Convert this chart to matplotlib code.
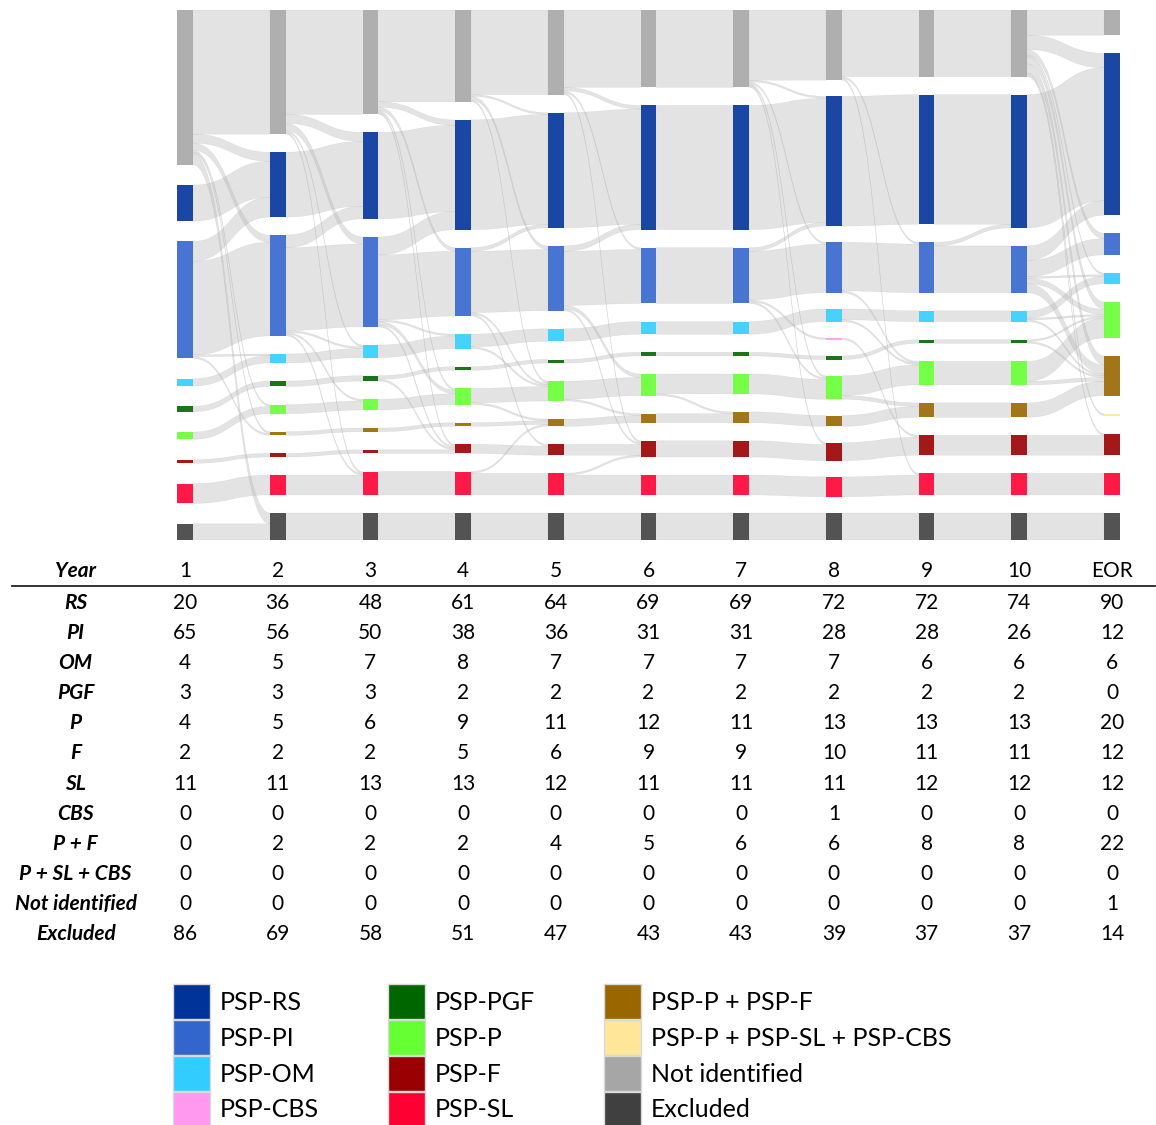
import matplotlib
matplotlib.use('Agg')
import matplotlib.pyplot as plt
from matplotlib.path import Path
from matplotlib.patches import PathPatch, Rectangle, Patch

plt.rcParams['font.family'] = ['Lato', 'DejaVu Sans']

# ---- data ----
years = ['1', '2', '3', '4', '5', '6', '7', '8', '9', '10', 'EOR']
rs  = [20, 36, 48, 61, 64, 69, 69, 72, 72, 74, 90]
pi  = [65, 56, 50, 38, 36, 31, 31, 28, 28, 26, 12]
om  = [4, 5, 7, 8, 7, 7, 7, 7, 6, 6, 6]
pgf = [3, 3, 3, 2, 2, 2, 2, 2, 2, 2, 0]
p   = [4, 5, 6, 9, 11, 12, 11, 13, 13, 13, 20]
f   = [2, 2, 2, 5, 6, 9, 9, 10, 11, 11, 12]
sl  = [11, 11, 13, 13, 12, 11, 11, 11, 12, 12, 12]
cbs = [0, 0, 0, 0, 0, 0, 0, 1, 0, 0, 0]
pf  = [0, 2, 2, 2, 4, 5, 6, 6, 8, 8, 22]
psc = [0, 0, 0, 0, 0, 0, 0, 0, 0, 0, 0]
not_identified = [0, 0, 0, 0, 0, 0, 0, 0, 0, 0, 1]
excluded = [86, 69, 58, 51, 47, 43, 43, 39, 37, 37, 14]
lost = [9, 15, 15, 15, 15, 15, 15, 15, 15, 15, 15]   # dark bar at the bottom

table_rows = ['RS', 'PI', 'OM', 'PGF', 'P', 'F', 'SL', 'CBS', 'P + F',
              'P + SL + CBS', 'Not identified', 'Excluded']
table_vals = [rs, pi, om, pgf, p, f, sl, cbs, pf, psc, not_identified, excluded]

# sankey nodes, top to bottom
node_keys = ['ex', 'rs', 'pi', 'om', 'cbs', 'pgf', 'p', 'pf', 'ni', 'f', 'sl', 'lost']
node_vals = dict(ex=excluded, rs=rs, pi=pi, om=om, cbs=cbs, pgf=pgf, p=p,
                 pf=pf, ni=not_identified, f=f, sl=sl, lost=lost)

# patients changing group between consecutive years (src, dst, n)
changes = [
    [('ex', 'lost', 6), ('ex', 'rs', 5), ('ex', 'pi', 4), ('ex', 'p', 1), ('ex', 'pf', 1),
     ('pi', 'rs', 11), ('pi', 'om', 1), ('pi', 'pf', 1)],
    [('ex', 'rs', 5), ('ex', 'pi', 4), ('ex', 'om', 1), ('ex', 'sl', 1),
     ('pi', 'rs', 7), ('pi', 'om', 1), ('pi', 'p', 1), ('pi', 'sl', 1)],
    [('ex', 'rs', 3), ('ex', 'pi', 2), ('ex', 'p', 1), ('ex', 'f', 1),
     ('pi', 'rs', 10), ('pi', 'om', 1), ('pi', 'p', 2), ('pi', 'f', 1), ('pgf', 'f', 1)],
    [('ex', 'rs', 1), ('ex', 'pi', 2), ('ex', 'p', 1), ('pi', 'rs', 2), ('pi', 'p', 1),
     ('pi', 'f', 1), ('om', 'p', 1), ('p', 'pf', 1), ('sl', 'pf', 1)],
    [('ex', 'rs', 2), ('ex', 'pi', 1), ('ex', 'f', 1), ('pi', 'rs', 3), ('pi', 'p', 2),
     ('pi', 'f', 1), ('sl', 'f', 1), ('p', 'pf', 1)],
    [('p', 'pf', 1)],
    [('ex', 'rs', 1), ('ex', 'pi', 1), ('ex', 'p', 1), ('ex', 'f', 1),
     ('pi', 'rs', 2), ('pi', 'p', 1), ('pi', 'cbs', 1)],
    [('ex', 'pi', 1), ('ex', 'sl', 1), ('pi', 'p', 1), ('om', 'p', 1), ('p', 'pf', 2),
     ('cbs', 'f', 1)],
    [('pi', 'rs', 2)],
    [('ex', 'rs', 8), ('ex', 'pi', 3), ('ex', 'om', 1), ('ex', 'p', 4), ('ex', 'pf', 5),
     ('ex', 'f', 1), ('ex', 'ni', 1), ('pi', 'rs', 8), ('pi', 'om', 1), ('pi', 'p', 3),
     ('pi', 'pf', 5), ('om', 'p', 1), ('om', 'pf', 1), ('pgf', 'p', 1), ('pgf', 'pf', 1),
     ('p', 'pf', 2)],
]

colors = dict(rs='#003399', pi='#3366cc', om='#33ccff', cbs='#ff99f0', pgf='#006600',
              p='#66ff33', f='#990000', sl='#ff0033', pf='#996600', ni='#ffe699',
              ex='#a6a6a6', lost='#404040')
legend_items = [('PSP-RS', 'rs'), ('PSP-PI', 'pi'), ('PSP-OM', 'om'), ('PSP-CBS', 'cbs'),
                ('PSP-PGF', 'pgf'), ('PSP-P', 'p'), ('PSP-F', 'f'), ('PSP-SL', 'sl'),
                ('PSP-P + PSP-F', 'pf'), ('PSP-P + PSP-SL + PSP-CBS', 'ni'),
                ('Not identified', 'ex'), ('Excluded', 'lost')]

# ---- layout ----
ncol = len(years)
node_w = 0.17
share = 0.6925          # part of the column height taken by the bars
total = sum(node_vals[k][0] for k in node_keys)
H = total / share

node_y = []             # per column: key -> (top, bottom)
for t in range(ncol):
    keys = [k for k in node_keys if node_vals[k][t] > 0]
    s = sum(node_vals[k][t] for k in keys)
    gap = (H - s) / (len(keys) - 1)
    y = 0.0
    pos = {}
    for k in keys:
        pos[k] = (y, y + node_vals[k][t])
        y += node_vals[k][t] + gap
    node_y.append(pos)

order = {k: i for i, k in enumerate(node_keys)}

fig = plt.figure(figsize=(11.56, 11.25), dpi=100)
x_lo, x_hi = -185 / 92.7, (1156 - 185) / 92.7

ax = fig.add_axes([0, 1 - 540 / 1125, 1, 530 / 1125])
ax.set_xlim(x_lo, x_hi)
ax.set_ylim(H, 0)
ax.axis('off')

for t, ch in enumerate(changes):
    links = {}
    for s_, d_, n in ch:
        links[(s_, d_)] = links.get((s_, d_), 0) + n
    for k in node_keys:
        out = sum(n for (s_, d_), n in links.items() if s_ == k and d_ != k)
        stay = node_vals[k][t] - out
        if stay > 0:
            links[(k, k)] = stay
    for k in node_keys:
        inflow = sum(n for (s_, d_), n in links.items() if d_ == k)
        assert inflow == node_vals[k][t + 1], (t, k)

    src_off = {k: node_y[t][k][0] for k in node_y[t]}
    dst_off = {k: node_y[t + 1][k][0] for k in node_y[t + 1]}
    y0s, y1s = {}, {}
    for key in sorted(links, key=lambda e: (order[e[0]], order[e[1]])):
        y0s[key] = src_off[key[0]]
        src_off[key[0]] += links[key]
    for key in sorted(links, key=lambda e: (order[e[1]], order[e[0]])):
        y1s[key] = dst_off[key[1]]
        dst_off[key[1]] += links[key]

    x0, x1 = t + node_w / 2, t + 1 - node_w / 2
    xm = (x0 + x1) / 2
    for key, n in links.items():
        a, b = y0s[key], y1s[key]
        verts = [(x0, a), (xm, a), (xm, b), (x1, b), (x1, b + n),
                 (xm, b + n), (xm, a + n), (x0, a + n), (x0, a)]
        codes = [Path.MOVETO, Path.CURVE4, Path.CURVE4, Path.CURVE4, Path.LINETO,
                 Path.CURVE4, Path.CURVE4, Path.CURVE4, Path.CLOSEPOLY]
        ax.add_patch(PathPatch(Path(verts, codes), facecolor='#b0b0b0',
                               edgecolor='#b0b0b0', lw=0.3, alpha=0.35, zorder=1))

for t in range(ncol):
    for k, (top, bot) in node_y[t].items():
        ax.add_patch(Rectangle((t - node_w / 2, top), node_w, bot - top,
                               facecolor=colors[k], alpha=0.9, lw=0, zorder=3))

# ---- table ----
tab = fig.add_axes([0, 1 - 950 / 1125, 1, 395 / 1125])
tab.set_xlim(x_lo, x_hi)
tab.set_ylim(12.53, -0.595)
tab.axis('off')
lab_x = -1.18
fs = 15
tab.text(lab_x, -0.05, 'Year', ha='center', va='center', fontsize=fs,
         fontweight='bold', style='italic')
for t, yr in enumerate(years):
    tab.text(t, -0.05, yr, ha='center', va='center', fontsize=fs)
tab.axhline(0.45, xmin=12 / 1156, xmax=1155 / 1156, color='#222222', lw=1.3)
for r, (name, vals) in enumerate(zip(table_rows, table_vals), start=1):
    tab.text(lab_x, r, name, ha='center', va='center', fontsize=fs,
             fontweight='bold', style='italic')
    for t, v in enumerate(vals):
        tab.text(t, r, str(v), ha='center', va='center', fontsize=fs)

# ---- legend ----
handles = [Patch(facecolor=colors[k], edgecolor='#d9d9d9', lw=1) for _, k in legend_items]
fig.legend(handles, [lbl for lbl, _ in legend_items], ncols=3, fontsize=18,
           loc='upper left', bbox_to_anchor=(173 / 1156, 1 - 984 / 1125),
           frameon=False, borderpad=0, borderaxespad=0, handlelength=1.48,
           handleheight=1.8, labelspacing=0.02, handletextpad=0.4, columnspacing=2.75)

fig.savefig('out.png', dpi=100)
